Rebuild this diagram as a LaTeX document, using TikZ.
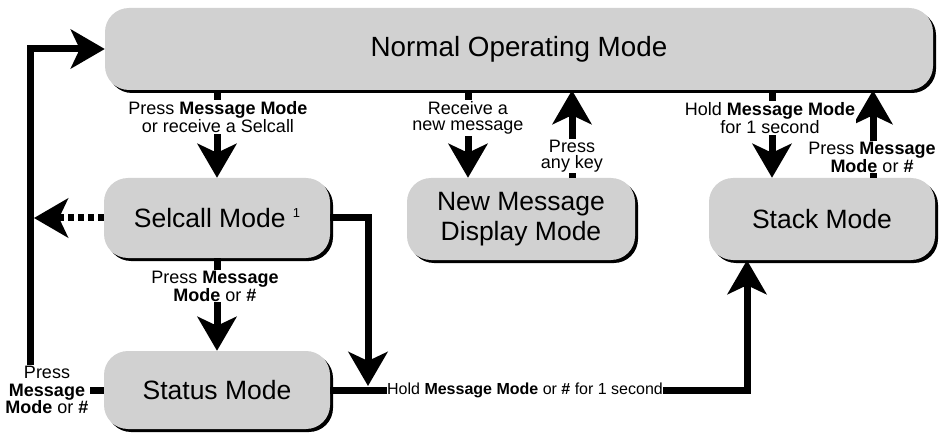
\documentclass[tikz,border=0pt]{standalone}
\usepackage{fontspec}
\setmainfont{Liberation Sans}
\usetikzlibrary{arrows.meta,shadows}
\begin{document}
\begin{tikzpicture}[x=1pt,y=-1pt,
  mode/.style={fill=black!18, rounded corners=24pt, inner sep=0pt, align=center,
    drop shadow={shadow xshift=3pt, shadow yshift=-3pt, fill=black, opacity=1},
    font=\fontsize{26.5}{30}\selectfont},
  lbl/.style={fill=white, inner sep=1pt, align=center, font=\fontsize{18}{16.5}\selectfont},
  conn/.style={line width=7pt, line join=miter, -{Stealth[length=34pt,width=39pt,inset=9pt]}},
  dotconn/.style={conn, dash pattern=on 6pt off 4pt}
]
\useasboundingbox (0,0) rectangle (946,433);

% mode boxes
\node[mode, minimum width=828pt, minimum height=82pt, font=\fontsize{27.8}{30}\selectfont] (normal) at (519,49) {Normal Operating Mode};
\node[mode, minimum width=226pt, minimum height=80pt] (selcall) at (217,218) {Selcall Mode \raisebox{10pt}{\fontsize{13}{13}\selectfont 1}};
\node[mode, minimum width=226pt, minimum height=78pt] (status) at (217,390) {Status Mode};
\node[mode, minimum width=228pt, minimum height=82pt] (nmd) at (521,219) {New Message\\Display Mode};
\node[mode, minimum width=226pt, minimum height=82pt] (stack) at (822,219) {Stack Mode};

\coordinate (L) at (30,0);
\coordinate (J) at (368,386);

% connectors
\draw[conn] (selcall.north |- normal.south) -- (selcall.north);
\draw[conn] (selcall.south) -- (status.north);
\draw[conn] (status.west) -| (L |- normal.west) -- (normal.west);
\draw[dotconn] (selcall.west) -- ([xshift=4pt]L |- selcall.west);
\draw[conn] (selcall.east) -| (J);
\draw[conn] (status.east) -| ([xshift=-75pt]stack.south);
\draw[conn] ([xshift=-53pt]nmd.north |- normal.south) -- ([xshift=-53pt]nmd.north);
\draw[conn] ([xshift=51pt]nmd.north) -- ([xshift=51pt]nmd.north |- normal.south);
\draw[conn] ([xshift=-50pt]stack.north |- normal.south) -- ([xshift=-50pt]stack.north);
\draw[conn] ([xshift=51pt]stack.north) -- ([xshift=51pt]stack.north |- normal.south);

% labels
\node[lbl] (l1) at (218,117) {Press \textbf{Message Mode}\\or receive a Selcall};
\node[lbl] (l2) at (215,286) {Press \textbf{Message}\\\textbf{Mode} or \textbf{\#}};
\node[lbl, font=\fontsize{18}{17.5}\selectfont] (l3) at (47,390) {Press\\\textbf{Message}\\\textbf{Mode} or \textbf{\#}};
\node[lbl, font=\fontsize{16}{16}\selectfont, inner sep=0.5pt] (l4) at (525,390) {Hold \textbf{Message Mode} or \textbf{\#} for 1 second};
\node[lbl] (l5) at (468,118) {Receive a\\new message};
\node[lbl] (l6) at (572,156) {Press\\any key};
\node[lbl] (l7) at (770,118) {Hold \textbf{Message Mode}\\for 1 second};
\node[lbl] (l8) at (872,157) {Press \textbf{Message}\\\textbf{Mode} or \textbf{\#}};
\end{tikzpicture}
\end{document}
